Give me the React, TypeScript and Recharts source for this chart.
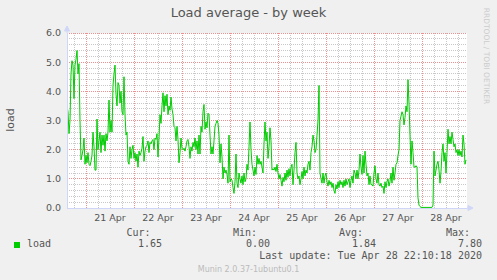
import React from 'react';
import { LineChart, Line, XAxis, YAxis, CartesianGrid, ReferenceDot, ReferenceLine } from 'recharts';

// 30-minute samples of the load average, starting Apr 20 14:30 (hour -9.5 relative to Apr 21 00:00)
const startHour = -9.5;
const stepHours = 0.5;

const loadApr20to23: number[] = [
  3.5, 3.3, 2.55, 3.0, 4.6, 5.05, 4.9, 3.75, 4.9, 5.1, 5.4, 4.6, 4.95, 3.0, 1.65, 1.8, 2.0, 2.4, 1.5, 1.8,
  1.55, 1.9, 1.5, 1.45, 1.6, 1.8, 2.6, 2.1, 1.3, 1.3,
  3.05, 2.0, 2.3, 2.6, 1.9, 2.5, 2.15, 2.5, 1.95, 2.55, 2.3, 2.6, 3.7, 2.6, 3.0, 2.6, 4.2, 4.6, 4.9, 3.9,
  3.5, 4.3, 4.2, 3.6, 4.0, 3.3, 3.2, 4.5, 3.2, 2.5, 2.6, 1.6, 1.5, 2.1, 1.7, 2.0, 2.15, 1.7, 1.9, 1.6,
  1.85, 1.4, 1.95, 1.8, 1.9, 2.05, 2.45, 1.6, 1.95, 2.1, 2.15, 2.3, 1.9, 2.25, 2.2, 2.3, 2.35, 2.0, 2.4, 2.35,
  2.55, 1.75, 2.4, 3.2, 2.9, 3.5, 3.95, 3.3, 3.85, 3.5, 3.9, 3.2, 3.5, 3.35, 3.8, 3.4, 3.2, 2.8, 2.75, 2.3,
  2.8, 2.35, 1.55, 1.9, 2.4, 2.05, 2.0, 2.05, 1.95, 2.1, 2.3, 2.35, 2.1, 1.7, 2.1, 1.95, 2.25, 2.1, 2.4, 2.0,
  2.3, 1.85, 2.5, 1.85, 2.8, 2.6, 3.3, 3.55, 2.7, 2.95, 2.75, 3.25, 3.2, 2.5, 1.85, 2.1, 1.85, 2.3, 2.8, 2.9,
  3.0, 2.9, 2.5, 1.55, 2.2, 1.75, 1.0, 1.4, 1.2, 1.3, 1.15, 0.85, 2.5, 0.9, 1.0, 0.95, 0.7, 0.5, 0.9, 1.85,
  0.85, 0.7, 1.2,
];

const loadApr24to26: number[] = [
  1.0, 0.85, 1.1, 0.8, 1.2, 0.9, 1.0, 1.5, 1.3, 2.1, 2.95, 2.0, 1.5, 1.3, 1.1, 1.4, 1.15, 1.8, 1.5, 1.7,
  1.5, 1.6, 1.4, 1.2, 2.2, 2.95, 2.3, 2.6, 1.7, 2.1, 2.75, 2.3, 1.3, 1.35, 1.3, 1.4, 1.25, 1.5, 1.2, 1.0,
  1.15, 0.95, 0.75, 1.05, 0.9, 1.2, 0.95, 1.3, 1.05, 1.35, 1.1, 1.4, 1.5, 0.8, 1.3, 1.9, 2.25, 1.2, 1.0, 1.1,
  0.8, 1.0, 1.25, 1.0, 1.4, 1.1, 1.3, 1.2, 1.5, 1.6, 1.3, 1.9, 2.1, 2.5, 2.3, 1.9, 2.0, 2.5, 3.0, 4.2,
  1.2, 1.0, 0.85, 1.2, 0.85, 1.1, 1.2, 0.9, 0.75, 0.95, 0.8, 0.9, 0.7, 0.85, 0.6, 0.5, 0.8, 0.65, 0.9, 0.7,
  0.95, 0.8, 0.9, 0.7, 0.95, 0.75, 1.0, 0.8, 0.9, 1.0, 0.7, 0.95, 1.1, 0.85, 1.3, 1.2, 1.0, 1.3, 1.0, 1.3,
  1.85, 1.4, 1.15, 1.8, 1.2, 1.95, 1.5, 1.1, 1.2, 0.8, 1.1, 0.8, 0.8, 0.75, 1.2, 1.45, 1.0, 0.85, 1.2, 0.8,
  0.75, 0.85, 0.7, 0.75, 0.5, 0.9, 0.7, 0.9, 1.0, 0.75, 0.9, 1.2, 0.85, 1.4, 0.95, 1.2,
];

const loadApr27to28: number[] = [
  1.5, 1.55, 1.8, 2.0, 3.0, 3.15, 3.3, 3.2, 2.85, 3.1, 3.5, 3.3, 4.4, 3.6, 2.5, 1.5, 2.3, 1.9, 1.4, 1.4,
  1.45, 1.4, 0.35, 0.1, 0.05, 0.02, 0.02, 0.02, 0.02, 0.02, 0.02, 0.02, 0.02, 0.02, 0.02, 0.02, 0.02, 0.1, 1.95, 1.1,
  1.3, 1.5, 1.6, 1.3, 0.85, 1.25, 1.9, 2.2, 1.6, 1.9, 1.2, 1.9, 2.7, 2.2, 2.45, 2.2, 2.6, 2.35, 2.1, 2.2,
  1.9, 2.0, 1.8, 2.0, 1.8, 1.95, 1.75, 2.5, 2.2, 1.5, 1.65,
];

const loadValues: number[] = [...loadApr20to23, ...loadApr24to26, ...loadApr27to28];

const dayLabels = ['21 Apr', '22 Apr', '23 Apr', '24 Apr', '25 Apr', '26 Apr', '27 Apr', '28 Apr'];
const labelHours = [12, 36, 60, 84, 108, 132, 156, 180];
const midnightHours = [0, 24, 48, 72, 96, 120, 144, 168];
const sixHourLines = [-6, 6, 12, 18, 30, 36, 42, 54, 60, 66, 78, 84, 90, 102, 108, 114, 126, 132, 138, 150, 156, 162, 174, 180, 186];
const yTicks = [0, 1, 2, 3, 4, 5, 6];
const yMajorLines = [1, 2, 3, 4, 5, 6];
const yMinorLines = [0.2, 0.4, 0.6, 0.8, 1.2, 1.4, 1.6, 1.8, 2.2, 2.4, 2.6, 2.8, 3.2, 3.4, 3.6, 3.8, 4.2, 4.4, 4.6, 4.8, 5.2, 5.4, 5.6, 5.8];

const legendStats = [
  { label: 'Cur:', value: '1.65' },
  { label: 'Min:', value: '0.00' },
  { label: 'Avg:', value: '1.84' },
  { label: 'Max:', value: '7.80' },
];

const data = loadValues.map((v, i) => ({ t: startHour + i * stepHours, load: v }));

const AXIS = '#CFD6F8';
const MINOR = '#c8c8c8';
const MAJOR = '#ec9090';
const FONT = "'DejaVu Sans', sans-serif";
const MONO = "'DejaVu Sans Mono', monospace";

const makeGridShape = (color: string) => (props: any) => {
  const { x1, y1, x2, y2 } = props;
  if (x1 == null || y1 == null) return <g />;
  return (
    <line
      x1={x1}
      y1={y1}
      x2={x2}
      y2={y2}
      stroke={color}
      strokeWidth={1}
      strokeDasharray="1 1"
      shapeRendering="crispEdges"
      fill="none"
    />
  );
};
const MinorShape = makeGridShape(MINOR);
const MajorShape = makeGridShape(MAJOR);

const UpArrow = (props: any) => {
  const { cx, cy } = props;
  return <path d={`M${cx - 2.5},${cy - 2} L${cx + 2.5},${cy - 2} L${cx},${cy - 7} Z M${cx},${cy} L${cx},${cy - 3}`} fill={AXIS} stroke={AXIS} strokeWidth={1} />;
};
const RightArrow = (props: any) => {
  const { cx, cy } = props;
  return <path d={`M${cx + 1},${cy - 2.5} L${cx + 1},${cy + 2.5} L${cx + 6},${cy} Z M${cx},${cy} L${cx + 2},${cy}`} fill={AXIS} stroke={AXIS} strokeWidth={1} />;
};

export default function App() {
  const statRights = [[150.5, 162], [257, 270], [363, 376], [470, 482]];
  return (
    <div style={{ position: 'absolute', left: 0, top: 0, width: 497, height: 280, background: '#f0f0f0', overflow: 'hidden' }}>
      <div style={{ position: 'absolute', left: 0, top: 0, width: 497, height: 280 }}>
        <LineChart width={497} height={280} data={data} margin={{ top: 33, right: 30, bottom: 52, left: 0 }}>
          <CartesianGrid fill="#ffffff" horizontal={false} vertical={false} />
          {yMinorLines.map((v, i) => (
            <ReferenceLine key={`hm-${i}`} y={v} stroke={MINOR} shape={MinorShape} />
          ))}
          {sixHourLines.map((v, i) => (
            <ReferenceLine key={`vm-${i}`} x={v} stroke={MINOR} shape={MinorShape} />
          ))}
          {yMajorLines.map((v, i) => (
            <ReferenceLine key={`hM-${i}`} y={v} stroke={MAJOR} shape={MajorShape} />
          ))}
          {midnightHours.map((v, i) => (
            <ReferenceLine key={`vM-${i}`} x={v} stroke={MAJOR} shape={MajorShape} />
          ))}
          <XAxis
            type="number"
            dataKey="t"
            domain={[-9.5, 190.5]}
            allowDataOverflow
            ticks={labelHours}
            interval={0}
            tickFormatter={(v: number) => dayLabels[labelHours.indexOf(v)] ?? ''}
            tickLine={false}
            axisLine={{ stroke: AXIS, shapeRendering: 'crispEdges' }}
            tick={{ fill: '#555', fontSize: 9.5, fontFamily: FONT }}
            tickMargin={0}
            height={20}
          />
          <YAxis
            type="number"
            domain={[0, 6]}
            ticks={yTicks}
            interval={0}
            tickFormatter={(v: number) => v.toFixed(1)}
            tickLine={false}
            axisLine={{ stroke: AXIS, shapeRendering: 'crispEdges' }}
            tick={{ fill: '#555', fontSize: 9.5, fontFamily: FONT }}
            tickMargin={0}
            width={67}
          />
          <Line type="linear" dataKey="load" stroke="#00cc00" strokeWidth={1} dot={false} isAnimationActive={false} />
          <ReferenceDot x={-9.5} y={6} r={0} ifOverflow="visible" shape={UpArrow} />
          <ReferenceDot x={190.5} y={0} r={0} ifOverflow="visible" shape={RightArrow} />
        </LineChart>
      </div>

      <div style={{ position: 'absolute', left: 0, width: 497, top: 5, lineHeight: '16px', textAlign: 'center', fontFamily: FONT, fontSize: 13, color: '#555', whiteSpace: 'nowrap' }}>
        Load average - by week
      </div>

      <div style={{ position: 'absolute', left: 11 - 20, top: 120 - 7, width: 40, lineHeight: '14px', textAlign: 'center', fontFamily: FONT, fontSize: 11, color: '#555', transform: 'rotate(-90deg)', whiteSpace: 'nowrap' }}>
        load
      </div>

      <div style={{ position: 'absolute', left: 486 - 60, top: 56 - 5, width: 120, lineHeight: '10px', textAlign: 'center', fontFamily: FONT, fontSize: 7.5, color: '#cccccc', transform: 'rotate(90deg)', whiteSpace: 'nowrap' }}>
        RRDTOOL / TOBI OETIKER
      </div>

      {legendStats.map((s, i) => (
        <React.Fragment key={s.label}>
          <div style={{ position: 'absolute', right: 497 - statRights[i][0], top: 233 - 6, lineHeight: '12px', fontFamily: MONO, fontSize: 10, color: '#555', whiteSpace: 'pre' }}>
            {s.label}
          </div>
          <div style={{ position: 'absolute', right: 497 - statRights[i][1], top: 244 - 6, lineHeight: '12px', fontFamily: MONO, fontSize: 10, color: '#555', whiteSpace: 'pre' }}>
            {s.value}
          </div>
        </React.Fragment>
      ))}

      <div style={{ position: 'absolute', left: 14, top: 241.5, width: 6, height: 6, background: '#00cc00' }} />
      <div style={{ position: 'absolute', left: 27, top: 244 - 6, lineHeight: '12px', fontFamily: MONO, fontSize: 10, color: '#555', whiteSpace: 'pre' }}>
        load
      </div>

      <div style={{ position: 'absolute', right: 497 - 482, top: 256 - 6, lineHeight: '12px', fontFamily: MONO, fontSize: 10, color: '#555', whiteSpace: 'pre' }}>
        Last update: Tue Apr 28 22:10:18 2020
      </div>

      <div style={{ position: 'absolute', left: 0, width: 497, top: 269.5 - 5, lineHeight: '10px', textAlign: 'center', fontFamily: FONT, fontSize: 8, color: '#bbbbbb', whiteSpace: 'nowrap' }}>
        Munin 2.0.37-1ubuntu0.1
      </div>
    </div>
  );
}
